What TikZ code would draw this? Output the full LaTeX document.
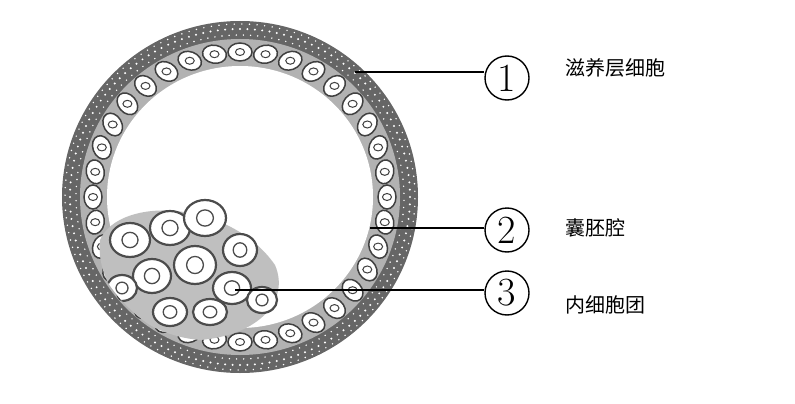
\documentclass[tikz,border=0pt]{standalone}
\usepackage{fontspec}
\usetikzlibrary{calc}
\newfontfamily\cjk{Noto Sans CJK SC}
\begin{document}
\begin{tikzpicture}[x=1pt,y=-1pt,
  lab/.style={font=\cjk\fontsize{20}{22}\selectfont,anchor=west},
  num/.style={circle,draw,line width=1.4pt,minimum size=44pt,inner sep=0pt,font=\fontsize{40}{40}\selectfont},
  lead/.style={line width=1.6pt},
  cell/.style={draw=black!75,line width=1.5pt,fill=white},
  icm/.style={draw=black!70,line width=2.2pt,fill=white}]
\useasboundingbox (0,0) rectangle (795,404);
\fill[black!60] (240,197) ellipse (178 and 176);
\fill[black!30] (240,197) ellipse (160 and 158);
\fill[white] (240,197) ellipse (133 and 131);
\foreach \a in {0,2.5,...,358}{
  \fill[white] ($(240,197)+(\a:170 and 168)$) circle (1.1);
  \fill[white] ($(240,197)+(\a+1.2:164 and 162)$) circle (0.8);
  \fill[white] ($(240,197)+(\a+0.6:175 and 173)$) circle (0.8);
}
\foreach \a in {0,10,...,355}{
  \draw[cell,rotate around={\a+90:($(240,197)+(\a:147 and 145)$)}] ($(240,197)+(\a:147 and 145)$) ellipse (12 and 9);
  \draw[black!75,line width=1pt] ($(240,197)+(\a:147 and 145)$) ellipse (4.5 and 3.5);
}
\begin{scope}
\clip (240,197) ellipse (158 and 156);
\fill[black!25] (100,240) .. controls (120,195) and (230,200) .. (275,265) .. controls (290,300) and (260,335) .. (200,340) .. controls (140,335) and (95,290) .. (100,240);
\foreach \x/\y/\rx/\ry in {130/240/20/17,170/228/20/17,205/218/21/18,240/250/17/16,152/276/19/17,195/265/21/19,232/288/19/16,170/312/17/14,210/312/17/13,122/288/15/13,262/300/15/13}{
  \draw[icm] (\x,\y) ellipse [x radius=\rx, y radius=\ry];
  \draw[black!70,line width=1.3pt] (\x,\y) ellipse [x radius=0.4*\rx, y radius=0.45*\ry];
}
\end{scope}
\node[num] (n1) at (507,78) {1};
\node[num] (n2) at (507,230) {2};
\node[num] (n3) at (507,293) {3};
\coordinate (t1) at (355,72);
\coordinate (t2) at (370,228);
\coordinate (t3) at (235,290);
\draw[lead] (t1) -- (n1.west|-t1);
\draw[lead] (t2) -- (n2.west|-t2);
\draw[lead] (t3) -- (n3.west|-t3);
\node[lab] (l1) at (562,68) {滋养层细胞};
\node[lab] (l2) at (562,228) {囊胚腔};
\node[lab] (l3) at (562,305) {内细胞团};
\end{tikzpicture}
\end{document}
